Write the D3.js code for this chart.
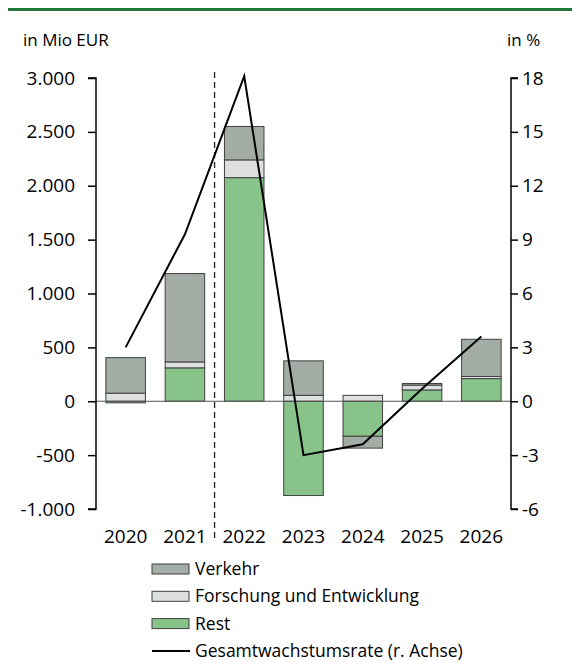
<!DOCTYPE html>
<html>
<head>
<meta charset="utf-8">
<script src="https://cdn.jsdelivr.net/npm/d3@7"></script>
<style>
  html, body { margin: 0; padding: 0; background: #fff; }
  svg text { font-family: "Open Sans", "Noto Sans", sans-serif; fill: #000; }
</style>
</head>
<body>
<svg id="chart" width="572" height="662"></svg>
<script>
// Categories and series (Mio EUR), growth rate (%)
const years = ["2020", "2021", "2022", "2023", "2024", "2025", "2026"];
const rest = [-15, 310, 2075, -875, -325, 105, 210];
const forschung = [75, 55, 165, 55, 55, 45, 20];
const verkehr = [330, 820, 310, 320, -110, 15, 345];
const wachstum = [3.0, 9.3, 18.1, -3.0, -2.4, 0.7, 3.6];

const leftTicks = [-1000, -500, 0, 500, 1000, 1500, 2000, 2500, 3000];
const rightTicks = [-6, -3, 0, 3, 6, 9, 12, 15, 18];

const seriesKeys = ["rest", "forschung", "verkehr"];
const seriesNames = { verkehr: "Verkehr", forschung: "Forschung und Entwicklung", rest: "Rest" };
const colors = { verkehr: "#a3aca5", forschung: "#dde0de", rest: "#88c48a" };

const svg = d3.select("#chart");
const plotLeft = 96, plotRight = 511, plotTop = 78, plotBottom = 509;
const tickFont = 19;

const x = d3.scaleBand().domain(years).range([plotLeft, plotRight]).paddingInner(1 / 3).paddingOuter(1 / 6);
const y = d3.scaleLinear().domain([-1000, 3000]).range([plotBottom, plotTop]);
const y2 = d3.scaleLinear().domain([-6, 18]).range([plotBottom, plotTop]);

// German number format with a plain hyphen for negatives
const fmt = d => d3.format(",")(d).replace(/,/g, ".").replace("\u2212", "-");

// header rule
svg.append("line").attr("x1", 8).attr("x2", 572).attr("y1", 9.5).attr("y2", 9.5)
  .attr("stroke", "#217a3c").attr("stroke-width", 3);

// unit labels
svg.append("text").attr("x", 23).attr("y", 46).attr("font-size", 17).text("in Mio EUR");
svg.append("text").attr("x", 507).attr("y", 46).attr("font-size", 17).text("in %");

// stacked bars (diverging around zero)
const rows = years.map((yr, i) => ({ year: yr, rest: rest[i], forschung: forschung[i], verkehr: verkehr[i] }));
const stacked = d3.stack().keys(seriesKeys).offset(d3.stackOffsetDiverging)(rows);

svg.append("g").selectAll("g").data(stacked).join("g")
  .attr("fill", d => colors[d.key])
  .selectAll("rect").data(d => d).join("rect")
  .attr("x", d => x(d.data.year))
  .attr("width", x.bandwidth())
  .attr("y", d => y(Math.max(d[0], d[1])))
  .attr("height", d => Math.abs(y(d[0]) - y(d[1])))
  .attr("stroke", "#404040").attr("stroke-width", 1);

// zero line
svg.append("line").attr("x1", plotLeft).attr("x2", plotRight).attr("y1", y(0)).attr("y2", y(0))
  .attr("stroke", "#555").attr("stroke-width", 1);

// left axis
const gL = svg.append("g").attr("transform", `translate(${plotLeft},0)`)
  .call(d3.axisLeft(y).tickValues(leftTicks).tickSize(8).tickPadding(13).tickFormat(fmt));
gL.select(".domain").attr("stroke", "#000").attr("stroke-width", 1.5).attr("d", `M-8,${plotTop}H0V${plotBottom}H-8`);
gL.selectAll(".tick line").attr("stroke", "#000").attr("stroke-width", 1.5);
gL.selectAll("text").attr("font-size", tickFont).attr("font-family", "Open Sans").attr("fill", "#000");

// right axis
const gR = svg.append("g").attr("transform", `translate(${plotRight},0)`)
  .call(d3.axisRight(y2).tickValues(rightTicks).tickSize(7).tickPadding(4).tickFormat(fmt));
gR.select(".domain").attr("stroke", "#000").attr("stroke-width", 1.5).attr("d", `M7,${plotTop}H0V${plotBottom}H7`);
gR.selectAll(".tick line").attr("stroke", "#000").attr("stroke-width", 1.5);
gR.selectAll("text").attr("font-size", tickFont).attr("font-family", "Open Sans").attr("fill", "#000");

// category labels
const gX = svg.append("g").attr("transform", `translate(0,${plotBottom})`)
  .call(d3.axisBottom(x).tickSize(0).tickPadding(21));
gX.select(".domain").remove();
gX.selectAll("text").attr("font-size", tickFont).attr("font-family", "Open Sans").attr("fill", "#000");

// separator between actuals and forecast
const sepX = x("2022") - x.step() * x.paddingInner() / 2;
svg.append("line").attr("x1", sepX).attr("x2", sepX).attr("y1", 72).attr("y2", 538)
  .attr("stroke", "#222").attr("stroke-width", 1.3).attr("stroke-dasharray", "6,4");

// growth rate line (right axis)
svg.append("path")
  .datum(years.map((yr, i) => [x(yr) + x.bandwidth() / 2, y2(wachstum[i])]))
  .attr("d", d3.line())
  .attr("fill", "none").attr("stroke", "#000").attr("stroke-width", 2)
  .attr("stroke-linejoin", "miter");

// legend
const legend = svg.append("g");
const legendItems = ["verkehr", "forschung", "rest"];
const lx = 152, ly0 = 569, lstep = 27.3;
legendItems.forEach((k, i) => {
  const cy = ly0 + i * lstep;
  legend.append("rect").attr("x", lx).attr("y", cy - 5).attr("width", 37).attr("height", 10)
    .attr("fill", colors[k]).attr("stroke", "#404040").attr("stroke-width", 1);
  legend.append("text").attr("x", lx + 43).attr("y", cy).attr("dy", "0.35em")
    .attr("font-size", 17.5).text(seriesNames[k]);
});
const cyL = ly0 + 3 * lstep;
legend.append("line").attr("x1", lx).attr("x2", lx + 38).attr("y1", cyL).attr("y2", cyL)
  .attr("stroke", "#000").attr("stroke-width", 2);
legend.append("text").attr("x", lx + 43).attr("y", cyL).attr("dy", "0.35em")
  .attr("font-size", 17.5).text("Gesamtwachstumsrate (r. Achse)");
</script>
</body>
</html>
